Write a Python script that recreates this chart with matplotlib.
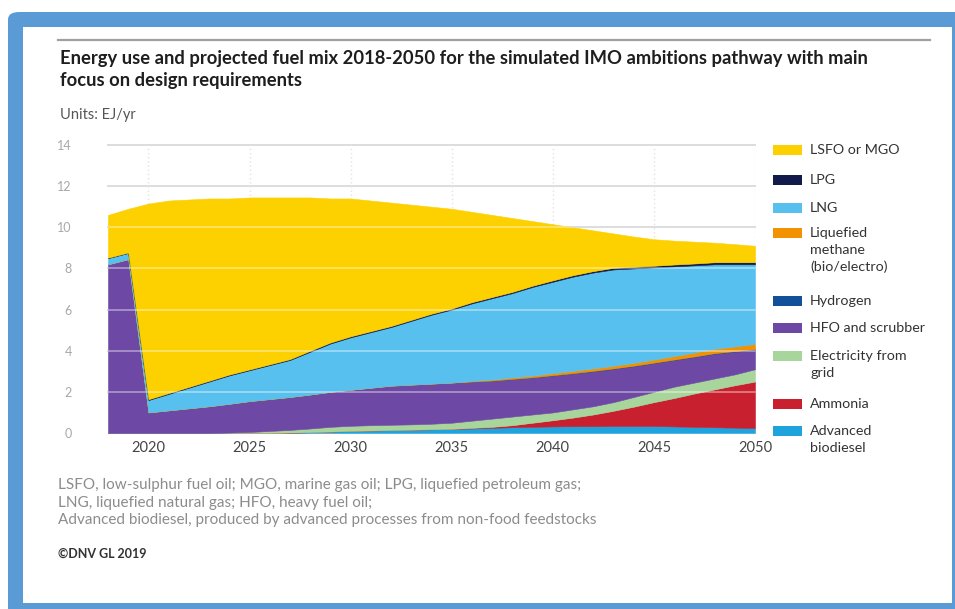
import matplotlib
matplotlib.use("Agg")
import matplotlib.pyplot as plt
from matplotlib.patches import Rectangle, FancyBboxPatch
from matplotlib.lines import Line2D

plt.rcParams["font.family"] = ["Lato", "DejaVu Sans"]

# ---- data (EJ/yr) ----
years = list(range(2018, 2051))

advanced_biodiesel = [0, 0, 0, 0, 0, 0, 0, 0, 0, 0.02, 0.04, 0.07, 0.10, 0.12, 0.14, 0.16,
                      0.18, 0.20, 0.22, 0.25, 0.28, 0.30, 0.32, 0.33, 0.33, 0.34, 0.34, 0.34,
                      0.32, 0.30, 0.28, 0.26, 0.24]
ammonia = [0, 0, 0, 0, 0, 0, 0, 0, 0, 0, 0, 0, 0, 0, 0, 0, 0, 0,
           0.03, 0.05, 0.10, 0.20, 0.30, 0.42, 0.57, 0.74, 0.94, 1.16, 1.38, 1.62, 1.84,
           2.06, 2.26]
electricity = [0, 0, 0, 0, 0, 0, 0.02, 0.05, 0.10, 0.13, 0.18, 0.23, 0.25, 0.26, 0.26, 0.26,
               0.27, 0.30, 0.35, 0.40, 0.42, 0.40, 0.38, 0.40, 0.40, 0.42, 0.47, 0.50, 0.55,
               0.53, 0.53, 0.53, 0.60]
hfo_scrubber = [8.20, 8.45, 1.00, 1.10, 1.20, 1.30, 1.40, 1.50, 1.55, 1.60, 1.65, 1.70, 1.75,
                1.82, 1.90, 1.93, 1.95, 1.95, 1.90, 1.85, 1.82, 1.80, 1.80, 1.75, 1.70, 1.62,
                1.50, 1.40, 1.30, 1.25, 1.20, 1.10, 0.95]
hydrogen = [0, 0, 0, 0, 0, 0, 0, 0, 0, 0, 0, 0, 0, 0, 0, 0, 0, 0, 0, 0,
            0.01, 0.01, 0.01, 0.01, 0.02, 0.02, 0.02, 0.02, 0.02, 0.02, 0.03, 0.03, 0.03]
liquefied_methane = [0, 0, 0, 0, 0, 0, 0, 0, 0, 0, 0, 0, 0, 0, 0, 0, 0, 0,
                     0.03, 0.05, 0.07, 0.08, 0.10, 0.11, 0.12, 0.13, 0.14, 0.15, 0.17, 0.19,
                     0.21, 0.23, 0.25]
lng = [0.30, 0.30, 0.60, 0.80, 1.00, 1.20, 1.38, 1.50, 1.65, 1.80, 2.08, 2.35, 2.55, 2.70,
       2.85, 3.10, 3.35, 3.55, 3.77, 3.95, 4.10, 4.31, 4.44, 4.58, 4.66, 4.68, 4.59, 4.48,
       4.36, 4.24, 4.11, 3.99, 3.87]
lpg = [0.02, 0.02, 0.04, 0.04, 0.04, 0.04, 0.04, 0.04, 0.04, 0.04, 0.05, 0.05, 0.05, 0.05,
       0.05, 0.05, 0.05, 0.05, 0.06, 0.06, 0.06, 0.06, 0.07, 0.07, 0.07, 0.08, 0.08, 0.08,
       0.09, 0.09, 0.10, 0.10, 0.10]
lsfo_mgo = [2.08, 2.13, 9.51, 9.36, 9.11, 8.86, 8.56, 8.36, 8.11, 7.86, 7.45, 7.00, 6.70,
            6.35, 6.00, 5.60, 5.20, 4.85, 4.39, 3.99, 3.59, 3.14, 2.73, 2.33, 1.98, 1.67,
            1.47, 1.29, 1.16, 1.06, 0.95, 0.88, 0.80]

# stacking order, bottom to top
stack = [advanced_biodiesel, ammonia, electricity, hfo_scrubber, hydrogen,
         liquefied_methane, lng, lpg, lsfo_mgo]
stack_colors = ["#1fa3dc", "#c8202e", "#a8d59c", "#6d48a4", "#12509a",
                "#f39200", "#58c0ee", "#111a4a", "#fdd000"]

# legend order, top to bottom
legend_labels = ["LSFO or MGO", "LPG", "LNG", "Liquefied\nmethane\n(bio/electro)",
                 "Hydrogen", "HFO and scrubber", "Electricity from\ngrid", "Ammonia",
                 "Advanced\nbiodiesel"]
legend_colors = ["#fdd000", "#111a4a", "#58c0ee", "#f39200", "#12509a", "#6d48a4",
                 "#a8d59c", "#c8202e", "#1fa3dc"]

x_ticks = [2020, 2025, 2030, 2035, 2040, 2045, 2050]
y_ticks = [0, 2, 4, 6, 8, 10, 12, 14]

title_lines = ["Energy use and projected fuel mix 2018-2050 for the simulated IMO ambitions pathway with main",
               "focus on design requirements"]
units_text = "Units: EJ/yr"
notes = ["LSFO, low-sulphur fuel oil; MGO, marine gas oil; LPG, liquefied petroleum gas;",
         "LNG, liquefied natural gas; HFO, heavy fuel oil;",
         "Advanced biodiesel, produced by advanced processes from non-food feedstocks"]
copyright_text = "\u00a9DNV GL 2019"

# ---- figure in pixel units ----
W, H = 955, 609
fig = plt.figure(figsize=(W / 100, H / 100), dpi=100)
fig.patch.set_facecolor("white")


def fx(px):
    return px / W


def fy(py):
    return 1 - py / H


# blue frame
frame = FancyBboxPatch((fx(8), fy(640)), fx(980) - fx(8), fy(12) - fy(640),
                       boxstyle="round,pad=0,rounding_size=0.012",
                       transform=fig.transFigure, facecolor="#5b9bd5",
                       edgecolor="none", zorder=-2)
fig.patches.append(frame)
fig.patches.append(Rectangle((fx(23), fy(603)), fx(952) - fx(23), fy(27) - fy(603),
                             transform=fig.transFigure, facecolor="white",
                             edgecolor="none", zorder=-1))

# top rule
fig.add_artist(Line2D([fx(58), fx(930)], [fy(40), fy(40)], color="#a0a0a0", lw=1.6))

# titles
fig.text(fx(60), fy(64), title_lines[0], fontsize=13.2, fontweight="bold", color="#1e1e1e",
         va="baseline")
fig.text(fx(60), fy(86), title_lines[1], fontsize=13.2, fontweight="bold", color="#1e1e1e",
         va="baseline")
fig.text(fx(60), fy(119), units_text, fontsize=10.5, color="#555555", va="baseline")

# ---- plot ----
ax = fig.add_axes([fx(108), fy(433), fx(755) - fx(108), fy(145) - fy(433)])
ax.set_zorder(1)
ax.patch.set_alpha(0)
ax.set_xlim(2018, 2050)
ax.set_ylim(0, 14)

polys = ax.stackplot(years, *stack, colors=stack_colors, zorder=2)
for p, c in zip(polys, stack_colors):
    p.set_edgecolor(c)
    p.set_linewidth(0.4)

# horizontal grid: grey on white, showing as a pale stripe across the filled areas
for y in y_ticks[1:]:
    ax.axhline(y, color="#c4c4c4", lw=1.3, zorder=1, clip_on=False)
    ax.axhline(y, color="white", lw=1.2, alpha=0.45, zorder=3, clip_on=False)
for x in x_ticks:
    ax.axvline(x, color="#e2e2e2", lw=1.0, ls=(0, (1, 2)), zorder=1)

for s in ax.spines.values():
    s.set_visible(False)
ax.set_xticks(x_ticks)
ax.set_yticks(y_ticks)
ax.set_xticklabels([str(v) for v in x_ticks], fontsize=10.5, color="#444444")
ax.set_yticklabels([str(v) for v in y_ticks], fontsize=9, color="#a8a8a8")
ax.tick_params(axis="both", length=0)
ax.tick_params(axis="y", pad=26)
ax.tick_params(axis="x", pad=6)

# ---- legend ----
entry_centers = [150, 180, 208, 233, 301, 328, 356, 404, 431]
for label, color, cy in zip(legend_labels, legend_colors, entry_centers):
    fig.patches.append(Rectangle((fx(773), fy(cy + 5)), fx(802) - fx(773), fy(cy - 5) - fy(cy + 5),
                                 transform=fig.transFigure, facecolor=color,
                                 edgecolor="none", zorder=2))
    for i, line in enumerate(label.split("\n")):
        fig.text(fx(810), fy(cy + i * 17), line, fontsize=10.3, color="#333333", va="center")

# ---- notes ----
for i, line in enumerate(notes):
    fig.text(fx(58), fy(489 + i * 17.5), line, fontsize=11, color="#8c8c8c", va="baseline")
fig.text(fx(58), fy(558), copyright_text, fontsize=9, color="#333333", va="baseline",
         fontweight="bold")

fig.savefig("out.png", dpi=100, facecolor="white")
